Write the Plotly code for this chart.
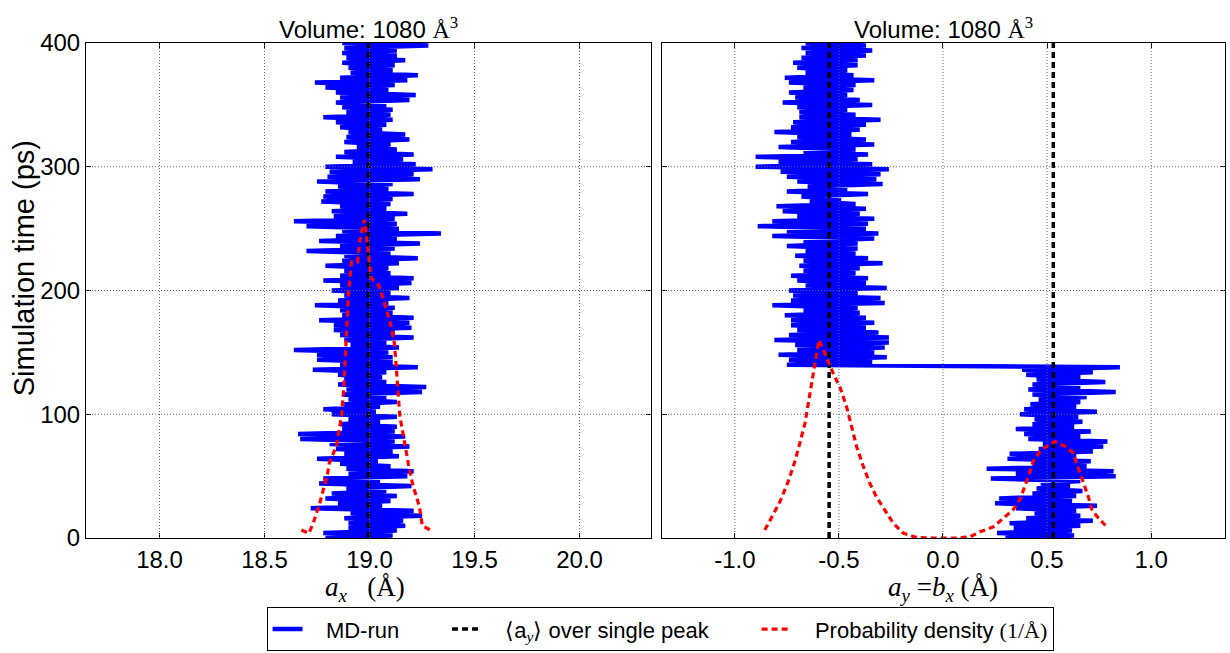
import plotly.graph_objects as go
from plotly.subplots import make_subplots

# ---------------- data ----------------
# MD-run a_x (Angstrom), sampled every 2 ps from 0 to 400 ps
left_md = [
    18.79, 19.11, 18.78, 19.13, 18.90, 19.17, 18.90, 19.16, 18.88, 19.25,
    18.91, 19.21, 18.72, 19.06, 18.85, 19.10, 18.79, 19.13, 18.82, 19.08,
    18.89, 19.20, 18.76, 19.05, 18.78, 19.18, 18.90, 19.21, 18.89, 19.10,
    18.86, 19.04, 18.75, 19.14, 18.88, 19.11, 18.84, 19.19, 18.81, 19.12,
    18.67, 19.17, 18.66, 19.12, 18.87, 19.13, 18.86, 19.05, 18.90, 19.13,
    18.82, 19.03, 18.78, 19.05, 18.88, 19.13, 18.90, 19.08, 18.87, 19.25,
    18.89, 19.27, 18.85, 19.08, 18.88, 19.06, 18.85, 19.08, 18.73, 19.23,
    18.86, 19.11, 18.75, 19.11, 18.75, 19.09, 18.64, 19.14, 18.91, 19.08,
    18.88, 19.21, 18.86, 19.12, 18.83, 19.20, 18.83, 19.19, 18.76, 19.21,
    18.87, 19.11, 18.86, 19.12, 18.74, 19.09, 18.85, 19.19, 18.88, 19.10,
    18.82, 19.14, 18.86, 19.20, 18.78, 19.21, 18.86, 19.10, 18.88, 19.09,
    18.79, 19.14, 18.87, 19.23, 18.88, 19.10, 18.70, 19.12, 18.86, 19.24,
    18.76, 19.13, 18.84, 19.34, 18.87, 19.14, 18.70, 19.13, 18.64, 19.12,
    18.83, 19.18, 18.82, 19.08, 18.86, 19.10, 18.77, 19.11, 18.78, 19.21,
    18.79, 19.09, 18.85, 19.11, 18.75, 19.24, 18.80, 19.21, 18.81, 19.30,
    18.79, 19.22, 18.92, 19.16, 18.84, 19.21, 18.88, 19.13, 18.94, 19.10,
    18.88, 19.19, 18.89, 19.17, 18.90, 19.06, 18.86, 19.08, 18.84, 19.11,
    18.78, 19.10, 18.89, 19.11, 18.87, 19.08, 18.84, 19.19, 18.86, 19.22,
    18.84, 19.09, 18.79, 19.12, 18.74, 19.18, 18.86, 19.23, 18.91, 19.11,
    18.90, 19.12, 18.87, 19.17, 18.89, 19.13, 18.87, 19.13, 18.88, 19.28,
    18.87,
]

# MD-run a_y = b_x (Angstrom), sampled every 2 ps from 0 to 400 ps
right_md = [
    0.30, 0.63, 0.26, 0.62, 0.34, 0.66, 0.32, 0.72, 0.40, 0.66,
    0.44, 0.64, 0.35, 0.74, 0.25, 0.62, 0.27, 0.64, 0.43, 0.67,
    0.45, 0.61, 0.47, 0.66, 0.23, 0.83, 0.35, 0.82, 0.21, 0.69,
    0.43, 0.71, 0.31, 0.64, 0.32, 0.72, 0.46, 0.77, 0.48, 0.79,
    0.41, 0.66, 0.39, 0.71, 0.35, 0.63, 0.43, 0.67, 0.44, 0.65,
    0.37, 0.74, 0.39, 0.64, 0.42, 0.66, 0.46, 0.69, 0.43, 0.83,
    0.41, 0.66, 0.43, 0.78, 0.45, 0.66, 0.40, 0.72, 0.38, 0.85,
    -0.75, -0.34, -0.74, -0.27, -0.79, -0.33, -0.70, -0.28, -0.71, -0.26,
    -0.81, -0.26, -0.74, -0.31, -0.70, -0.37, -0.73, -0.33, -0.73, -0.37,
    -0.76, -0.40, -0.67, -0.41, -0.82, -0.28, -0.73, -0.30, -0.72, -0.41,
    -0.74, -0.27, -0.66, -0.37, -0.70, -0.36, -0.73, -0.42, -0.67, -0.40,
    -0.69, -0.29, -0.67, -0.36, -0.71, -0.42, -0.66, -0.41, -0.75, -0.41,
    -0.67, -0.33, -0.82, -0.31, -0.75, -0.37, -0.89, -0.36, -0.82, -0.33,
    -0.70, -0.40, -0.77, -0.37, -0.80, -0.42, -0.64, -0.49, -0.68, -0.36,
    -0.75, -0.46, -0.65, -0.29, -0.70, -0.32, -0.75, -0.30, -0.78, -0.26,
    -0.90, -0.34, -0.79, -0.41, -0.90, -0.36, -0.67, -0.42, -0.79, -0.33,
    -0.73, -0.37, -0.70, -0.44, -0.81, -0.40, -0.73, -0.37, -0.72, -0.30,
    -0.69, -0.42, -0.69, -0.46, -0.70, -0.34, -0.77, -0.40, -0.71, -0.46,
    -0.74, -0.43, -0.67, -0.42, -0.74, -0.33, -0.76, -0.43, -0.66, -0.46,
    -0.70, -0.41, -0.72, -0.41, -0.68, -0.37, -0.66, -0.34, -0.68, -0.37,
    -0.66,
]

time_step_ps = 2
left_time = [time_step_ps * i for i in range(len(left_md))]
right_time = [time_step_ps * i for i in range(len(right_md))]

# mean over single peak
left_mean = [18.995]
right_means = [-0.547, 0.530]

# probability density curves (plotted in the time axis units)
left_dens_x = [18.676, 18.711, 18.732, 18.763, 18.800, 18.808, 18.843, 18.867, 18.878,
               18.886, 18.893, 18.900, 18.914, 18.943, 18.952, 18.962, 18.976, 18.987,
               18.997, 19.008, 19.044, 19.071, 19.100, 19.119, 19.127, 19.133, 19.144,
               19.167, 19.186, 19.206, 19.238, 19.251, 19.294]
left_dens_y = [6.5, 3.8, 12, 28, 52, 60, 75, 99, 123,
               148, 173, 198, 223, 223, 238, 248, 257, 243,
               226, 210, 204, 190, 173, 157, 141, 125, 99,
               75, 59, 43, 25, 10, 6]

right_dens_x = [-0.856, -0.824, -0.784, -0.744, -0.712, -0.688, -0.663, -0.647, -0.631,
                -0.615, -0.596, -0.575, -0.559, -0.540, -0.519, -0.495, -0.463, -0.439,
                -0.415, -0.383, -0.351, -0.319, -0.279, -0.239, -0.191, -0.126, -0.047,
                0.066, 0.130, 0.178, 0.242, 0.290, 0.338, 0.370, 0.394, 0.410, 0.434,
                0.466, 0.506, 0.538, 0.587, 0.627, 0.643, 0.659, 0.675, 0.699, 0.715,
                0.747, 0.787]
right_dens_y = [6.5, 16, 29, 45.5, 61.7, 76.5, 92.7, 108.8, 125,
                142.5, 160, 152, 145, 138, 130, 122, 106, 90,
                74, 58, 44, 33, 23, 12, 4, 0.3, 0,
                0, 1, 5, 9, 16, 23, 31, 41.5, 49.5, 62,
                70, 75, 78, 74, 68.5, 60, 52, 44, 33, 23,
                16, 9]

left_xticks = [18.0, 18.5, 19.0, 19.5, 20.0]
left_xticklabels = ["18.0", "18.5", "19.0", "19.5", "20.0"]
right_xticks = [-1.0, -0.5, 0.0, 0.5, 1.0]
right_xticklabels = ["-1.0", "-0.5", "0.0", "0.5", "1.0"]
yticks = [0, 100, 200, 300, 400]
yticklabels = ["0", "100", "200", "300", "400"]

left_xrange = [17.65, 20.34]
right_xrange = [-1.35, 1.355]
yrange = [0, 400]

serif = "Liberation Serif"
sans = "Liberation Sans"
SER = "<span style=\"font-family:'Liberation Serif'\">"
NB = "\u00a0"

title_text = "Volume: 1080 " + SER + "Å<sup>3</sup></span>"
name_md = NB * 3 + "MD-run" + NB * 7
name_mean = (NB * 3 + SER + "⟨</span>a<sub>" + SER + "<i>y</i></span></sub>" + SER
             + "⟩</span> over single peak" + NB * 7)
name_dens = NB * 3 + "Probability density " + SER + "(1/Å)</span>"

# ---------------- figure ----------------
fig = make_subplots(rows=1, cols=2, shared_yaxes=True)

blue = "#0000ff"
dash = "6px,4px"

fig.add_trace(go.Scatter(x=left_md, y=left_time, mode="lines",
                         line=dict(color=blue, width=4.5), name=name_md,
                         legendgroup="md"), 1, 1)
fig.add_trace(go.Scatter(x=left_mean * 2, y=yrange, mode="lines",
                         line=dict(color="black", width=3.5, dash=dash),
                         name=name_mean, legendgroup="mean"), 1, 1)
fig.add_trace(go.Scatter(x=left_dens_x, y=left_dens_y, mode="lines",
                         line=dict(color="#ff0000", width=3.2, dash=dash),
                         name=name_dens, legendgroup="dens"), 1, 1)

fig.add_trace(go.Scatter(x=right_md, y=right_time, mode="lines",
                         line=dict(color=blue, width=4.5), name=name_md,
                         legendgroup="md", showlegend=False), 1, 2)
mx, my = [], []
for m in right_means:
    mx += [m, m, None]
    my += [yrange[0], yrange[1], None]
fig.add_trace(go.Scatter(x=mx, y=my, mode="lines",
                         line=dict(color="black", width=3.5, dash=dash),
                         legendgroup="mean", showlegend=False), 1, 2)
fig.add_trace(go.Scatter(x=right_dens_x, y=right_dens_y, mode="lines",
                         line=dict(color="#ff0000", width=3.2, dash=dash),
                         legendgroup="dens", showlegend=False), 1, 2)

axis_common = dict(showgrid=False, zeroline=False, showline=True, linecolor="black",
                   linewidth=1, mirror="allticks", ticks="inside", ticklen=5,
                   tickcolor="black", tickfont=dict(family=sans, size=24, color="black"))

fig.update_xaxes(domain=[0, 0.496], range=left_xrange, tickvals=left_xticks,
                 ticktext=left_xticklabels, row=1, col=1, **axis_common)
fig.update_xaxes(domain=[0.5057, 1], range=right_xrange, tickvals=right_xticks,
                 ticktext=right_xticklabels, row=1, col=2, **axis_common)
fig.update_yaxes(range=yrange, tickvals=yticks, ticktext=yticklabels, row=1, col=1,
                 **axis_common)
fig.update_yaxes(range=yrange, tickvals=yticks, ticktext=yticklabels, row=1, col=2,
                 showticklabels=False, **axis_common)

# dotted grid drawn above the data, as in the original
grid_style = dict(color="#666666", width=1, dash="1px,2px")
shapes = []
for xr, yr, xt in (("x", "y", left_xticks), ("x2", "y2", right_xticks)):
    for v in xt:
        shapes.append(dict(type="line", xref=xr, yref=yr + " domain", x0=v, x1=v,
                           y0=0, y1=1, line=grid_style, layer="above"))
    for v in yticks[1:-1]:
        shapes.append(dict(type="line", xref=xr + " domain", yref=yr, x0=0, x1=1,
                           y0=v, y1=v, line=grid_style, layer="above"))

annotations = [
    dict(text=title_text, x=0.248, y=1.03, xref="paper", yref="paper",
         xanchor="center", yanchor="middle", showarrow=False,
         font=dict(family=sans, size=24, color="black")),
    dict(text=title_text, x=0.7528, y=1.03, xref="paper", yref="paper",
         xanchor="center", yanchor="middle", showarrow=False,
         font=dict(family=serif, size=24, color="black") if False else
         dict(family=sans, size=24, color="black")),
    dict(text="<i>a<sub>x</sub></i>" + NB * 2 + " (Å)", x=0.245, y=-0.103,
         xref="paper", yref="paper", xanchor="center", yanchor="middle", showarrow=False,
         font=dict(family=serif, size=27, color="black")),
    dict(text="<i>a<sub>y</sub></i> =<i>b<sub>x</sub></i> (Å)", x=0.7528, y=-0.103,
         xref="paper", yref="paper", xanchor="center", yanchor="middle", showarrow=False,
         font=dict(family=serif, size=27, color="black")),
    dict(text="Simulation time (ps)", x=-0.0544, y=0.545, xref="paper", yref="paper",
         xanchor="center", yanchor="middle", showarrow=False, textangle=-90,
         font=dict(family=sans, size=29, color="black")),
]

fig.update_layout(
    width=1230, height=653,
    margin=dict(l=86, r=5, t=43, b=115, autoexpand=False),
    paper_bgcolor="white", plot_bgcolor="white",
    shapes=shapes, annotations=annotations,
    showlegend=True,
    legend=dict(orientation="h", x=0.504, xanchor="center", y=-0.14, yanchor="top",
                bordercolor="black", borderwidth=1, bgcolor="white",
                font=dict(family=sans, size=22, color="black"),
                traceorder="normal"),
)

fig.write_html("out.html", config={"displayModeBar": False},
               post_script="document.body.style.margin='0';document.body.style.overflow='hidden';")
